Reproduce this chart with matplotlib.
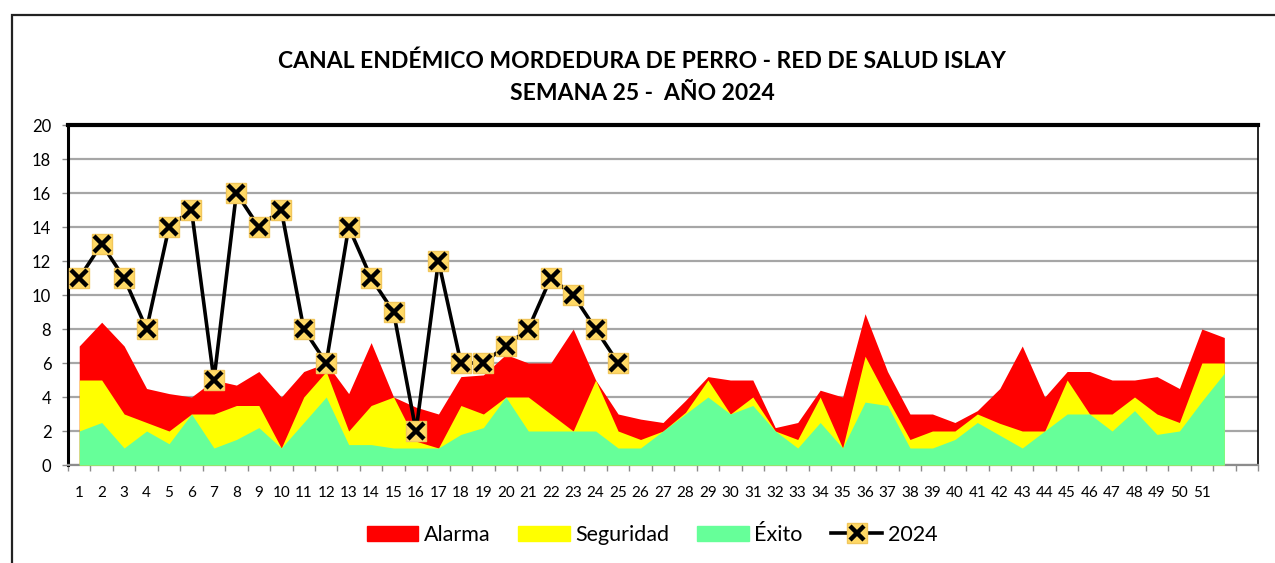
import numpy as np
import matplotlib.pyplot as plt
from matplotlib.patches import Patch, Rectangle
from matplotlib.lines import Line2D

plt.rcParams['font.family'] = ['Lato', 'DejaVu Sans']

# semanas epidemiologicas del canal endemico
semanas = list(range(1, 53))
alarma = [7, 8.4, 7, 4.5, 4.2, 4, 5, 4.7, 5.5, 4, 5.5, 6,
          4.2, 7.2, 4, 3.4, 3, 5.2, 5.3, 6.5, 6, 6, 8, 5,
          3, 2.7, 2.5, 3.8, 5.2, 5, 5, 2.2, 2.5, 4.4, 4, 8.9,
          5.5, 3, 3, 2.5, 3.2, 4.5, 7, 4, 5.5, 5.5, 5, 5,
          5.2, 4.5, 8, 7.5]
seguridad = [5, 5, 3, 2.5, 2, 3, 3, 3.5, 3.5, 1, 4, 5.5,
             2, 3.5, 4, 1.4, 1, 3.5, 3, 4, 4, 3, 2, 5,
             2, 1.5, 2, 3.1, 5, 3, 4, 2, 1.5, 4, 1, 6.4,
             3.9, 1.5, 2, 2, 3, 2.45, 2, 2, 5, 3, 3, 4,
             3, 2.5, 6, 6]
exito = [2, 2.5, 1, 2, 1.25, 3, 1, 1.5, 2.2, 1, 2.5, 4,
         1.2, 1.2, 1, 1, 1, 1.8, 2.2, 4, 2, 2, 2, 2,
         1, 1, 2, 3, 4, 3, 3.5, 2, 1, 2.5, 1, 3.7,
         3.5, 1, 1, 1.5, 2.5, 1.75, 1, 2, 3, 3, 2, 3.2,
         1.8, 2, 3.75, 5.4]

# casos 2024 hasta la semana 25
semanas_2024 = list(range(1, 26))
casos_2024 = [11, 13, 11, 8, 14, 15, 5, 16, 14, 15, 8, 6, 14, 11, 9, 2,
              12, 6, 6, 7, 8, 11, 10, 8, 6]

etiquetas_x = [str(i) for i in range(1, 52)]

rojo = '#FF0000'
amarillo = '#FFFF00'
verde = '#66FF99'
dorado = '#FFD966'

fig = plt.figure(figsize=(12.75, 5.63), dpi=100)
W, H = 1275, 563
ax = fig.add_axes([68 / W, 1 - 465 / H, (1258 - 68) / W, (465 - 125) / H])

ax.fill_between(semanas, 0, alarma, color=rojo, lw=0, zorder=2)
ax.fill_between(semanas, 0, seguridad, color=amarillo, lw=0, zorder=3)
ax.fill_between(semanas, 0, exito, color=verde, lw=0, zorder=4)

ax.plot(semanas_2024, casos_2024, color='black', lw=2.6, marker='s', ms=15,
        mfc=dorado, mec='#F2C75C', mew=1, zorder=5)
ax.plot(semanas_2024, casos_2024, ls='none', marker='x', ms=11, mew=3.2,
        color='black', zorder=6)

ax.set_xlim(0.5, 53.5)
ax.set_ylim(0, 20)
ax.set_yticks(range(0, 21, 2))
ax.yaxis.grid(True, color='#A6A6A6', lw=1.6)
ax.set_axisbelow(True)

# ticks between categories, labels at the centres
ax.set_xticks(np.arange(0.5, 54, 1))
ax.set_xticklabels([])
ax.set_xticks(range(1, 52), minor=True)
ax.set_xticklabels(etiquetas_x, minor=True, fontsize=11)
ax.tick_params(axis='x', which='major', length=4, color='#8C8C8C', width=1)
ax.tick_params(axis='x', which='minor', length=0, pad=15)
ax.tick_params(axis='y', length=4, color='#8C8C8C', width=1, labelsize=12, pad=8)

ax.spines['top'].set_linewidth(3)
ax.spines['top'].set_color('black')
ax.spines['left'].set_linewidth(2.2)
ax.spines['left'].set_color('black')
ax.spines['right'].set_linewidth(1.2)
ax.spines['right'].set_color('black')
ax.spines['bottom'].set_linewidth(1.6)
ax.spines['bottom'].set_color('#8C8C8C')

fig.text(642 / W, 1 - 61 / H, 'CANAL ENDÉMICO MORDEDURA DE PERRO - RED DE SALUD ISLAY',
         ha='center', va='center', fontsize=16.5, fontweight='bold')
fig.text(642 / W, 1 - 94 / H, 'SEMANA 25 -  AÑO 2024',
         ha='center', va='center', fontsize=16.5, fontweight='bold')

handles = [Patch(color=rojo), Patch(color=amarillo), Patch(color=verde),
           (Line2D([], [], color='black', lw=2.6, marker='s', ms=14, mfc=dorado,
                   mec='#F2C75C'),
            Line2D([], [], ls='none', marker='x', ms=10, mew=3.2, color='black'))]
fig.legend(handles, ['Alarma', 'Seguridad', 'Éxito', '2024'], loc='center',
           bbox_to_anchor=(652 / W, 1 - 535 / H), ncol=4, frameon=False,
           fontsize=15.5, handlelength=2.4, handleheight=0.75, handletextpad=0.25,
           columnspacing=1.3)

fig.patches.append(Rectangle((12 / W, -0.1), 1.2, 1 - 15 / H + 0.1,
                             transform=fig.transFigure, fill=False,
                             ec='#222222', lw=1.6))

fig.savefig('out.png', dpi=100)
